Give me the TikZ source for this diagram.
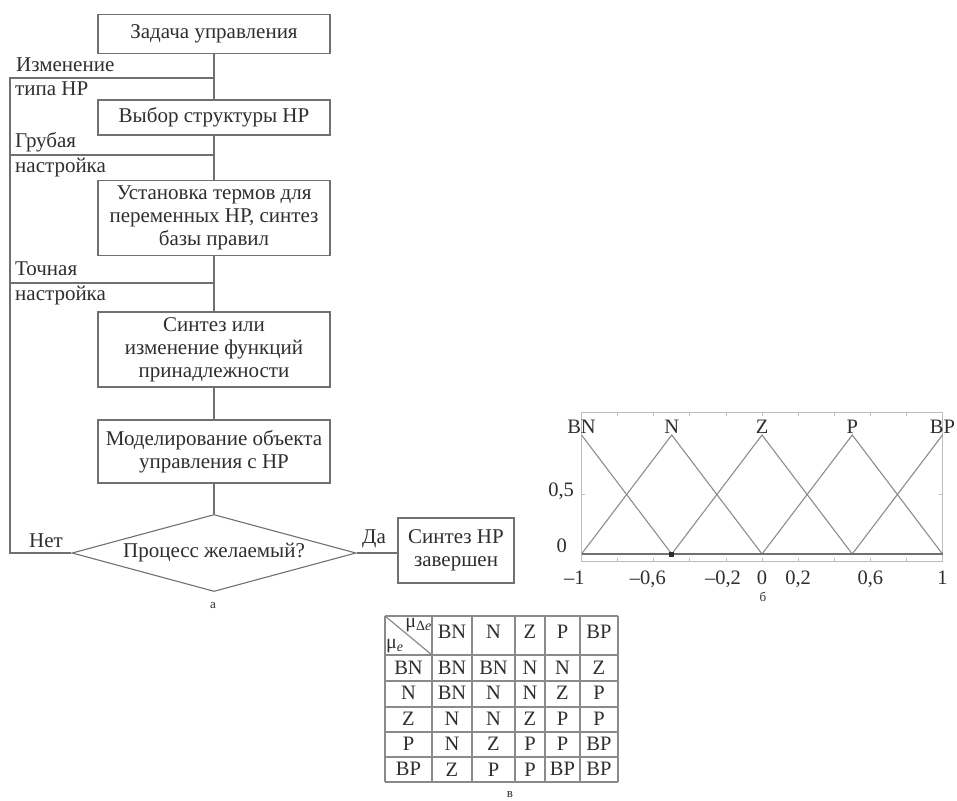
\documentclass[tikz,border=0pt]{standalone}
\usepackage{fontspec}
\setmainfont{Liberation Serif}
\usetikzlibrary{shapes.geometric}
\definecolor{inkGray}{HTML}{2E2E2E}
\definecolor{lineGray}{HTML}{707070}
\definecolor{plotGray}{HTML}{8C8C8C}
\definecolor{frameGray}{HTML}{BDBDBD}
\definecolor{gridGray}{HTML}{8A8A8A}

\begin{document}
\begin{tikzpicture}[
  x=1pt,y=-1pt,
  every node/.style={text=inkGray},
  box/.style={draw=lineGray,line width=1.1pt,minimum width=232pt,align=center,inner sep=2pt,font=\fontsize{21}{23}\selectfont},
  cond/.style={diamond,draw=lineGray,line width=1.1pt,aspect=3.7,minimum width=284pt,minimum height=77pt,inner sep=0pt,font=\fontsize{21}{23}\selectfont},
  side/.style={inner sep=0pt,font=\fontsize{21}{23}\selectfont},
  link/.style={draw=lineGray,line width=1.1pt},
  lbl/.style={inner sep=1pt,font=\fontsize{20.5}{22}\selectfont},
  cell/.style={inner sep=0pt,font=\fontsize{20.5}{22}\selectfont},
  grid/.style={draw=gridGray,line width=1.2pt},
  caption/.style={inner sep=0pt,font=\fontsize{13}{15}\selectfont}
]
\useasboundingbox (0,0) rectangle (957,800);

% flowchart
\node[box,minimum height=39pt] (task) at (214,34) {Задача управления};
\node[box,minimum height=35pt] (struct) at (214,117.5) {Выбор структуры НР};
\node[box,minimum height=75pt] (terms) at (214,218) {Установка термов для\\переменных НР, синтез\\базы правил};
\node[box,minimum height=75pt] (mfun) at (214,349.5) {Синтез или\\изменение функций\\принадлежности};
\node[box,minimum height=63pt] (model) at (214,451.5) {Моделирование объекта\\управления с НР};
\node[cond] (check) at (214,553) {Процесс желаемый?};
\node[box,minimum width=116pt,minimum height=65pt] (done) at (456,550.5) {Синтез НР\\завершен};

\coordinate (loopA) at (10,78);
\coordinate (loopB) at (10,155);
\coordinate (loopC) at (10,283);
\coordinate (loopD) at (10,553);

\node[side,anchor=base west] (chg1) at (16,71) {Изменение};
\node[side,anchor=base west] (chg2) at (15,95) {типа НР};
\node[side,anchor=base west] (rough1) at (15,147) {Грубая};
\node[side,anchor=base west] (rough2) at (15,172) {настройка};
\node[side,anchor=base west] (fine1) at (15,275) {Точная};
\node[side,anchor=base west] (fine2) at (15,300) {настройка};
\node[side,anchor=base] (no) at (46,547) {Нет};
\node[side,anchor=base] (yes) at (374,543) {Да};

\draw[link] (task) -- (struct);
\draw[link] (struct) -- (terms);
\draw[link] (terms) -- (mfun);
\draw[link] (mfun) -- (model);
\draw[link] (model) -- (check);
\draw[link] (check.east) -- (check.east -| done.west);
\draw[link] (check.west) -- (loopD) -- (loopA) -- (loopA -| task.south);
\draw[link] (loopB) -- (loopB -| task.south);
\draw[link] (loopC) -- (loopC -| task.south);

\node[caption] (capA) at (213,606) {а};

% membership functions
\begin{scope}[shift={(762pt,-554pt)},x=180.5pt,y=119pt]
  \draw[frameGray,line width=1pt] (-1,-0.067) rectangle (1,1.193);
  \foreach \k in {-4,...,4} {
    \draw[frameGray,line width=0.8pt] (\k/5,-0.067) -- ++(0,0.035);
    \draw[frameGray,line width=0.8pt] (\k/5,1.193) -- ++(0,-0.035);
  }
  \draw[frameGray,line width=0.8pt] (-1,0.5) -- ++(0.02,0);
  \draw[frameGray,line width=0.8pt] (1,0.5) -- ++(-0.02,0);
  \begin{scope}
    \clip (-1,-0.1) rectangle (1,1.1);
    \foreach \c in {-1,-0.5,0,0.5,1}
      \draw[plotGray,line width=1.1pt] (\c-0.5,0) -- (\c,1) -- (\c+0.5,0);
  \end{scope}
  \draw[lineGray,line width=1.4pt] (-1,0) -- (1,0);
  \fill[inkGray] (-0.5,0) +(-2.5pt,-2.5pt) rectangle +(2.5pt,2.5pt);
  \foreach \c/\t in {-1/BN,-0.5/N,0/Z,0.5/P,1/BP}
    \node[lbl,anchor=south] (peak\t) at (\c,1) {\t};
  \foreach \v/\t [count=\k] in {-1.04/{--1},-0.632/{--0,6},-0.216/{--0,2},0/0,0.2/{0,2},0.6/{0,6},1/1}
    \node[lbl,anchor=north] (xt\k) at (\v,-0.13) {\t};
  \node[lbl,anchor=east] (yt1) at (-1.035,0.53) {0,5};
  \node[lbl,anchor=east] (yt0) at (-1.075,0.07) {0};
\end{scope}

\node[caption] (capB) at (763,597) {б};

% rule table
\foreach \x in {385,432,472,515,545,580,618}
  \draw[grid] (\x,616) -- (\x,782);
\foreach \y in {616,655,681,707,732,757,782}
  \draw[grid] (385,\y) -- (618,\y);
\draw[grid] (385,616) -- (432,655);
\node[inner sep=1pt,anchor=north east,font=\fontsize{20}{22}\selectfont] (mude) at (433,617) {μ\textsubscript{Δ\textit{e}}};
\node[inner sep=1pt,anchor=south west,font=\fontsize{20}{22}\selectfont] (mue) at (385,654) {μ\textsubscript{\textit{e}}};
\foreach \t/\x [count=\j] in {BN/452,N/493.5,Z/530,P/562.5,BP/599}
  \node[cell] (head\j) at (\x,632) {\t};
\foreach \r [count=\i] in {{BN,BN,BN,N,N,Z},{N,BN,N,N,Z,P},{Z,N,N,Z,P,P},{P,N,Z,P,P,BP},{BP,Z,P,P,BP,BP}}
  \foreach \e [count=\j] in \r {
    \pgfmathsetmacro\cx{{408.5,452,493.5,530,562.5,599}[\j-1]}
    \node[cell] (c\i\j) at (\cx,{655+25.4*(\i-0.5)}) {\e};
  }

\node[caption] (capC) at (510,795) {в};
\end{tikzpicture}
\end{document}
